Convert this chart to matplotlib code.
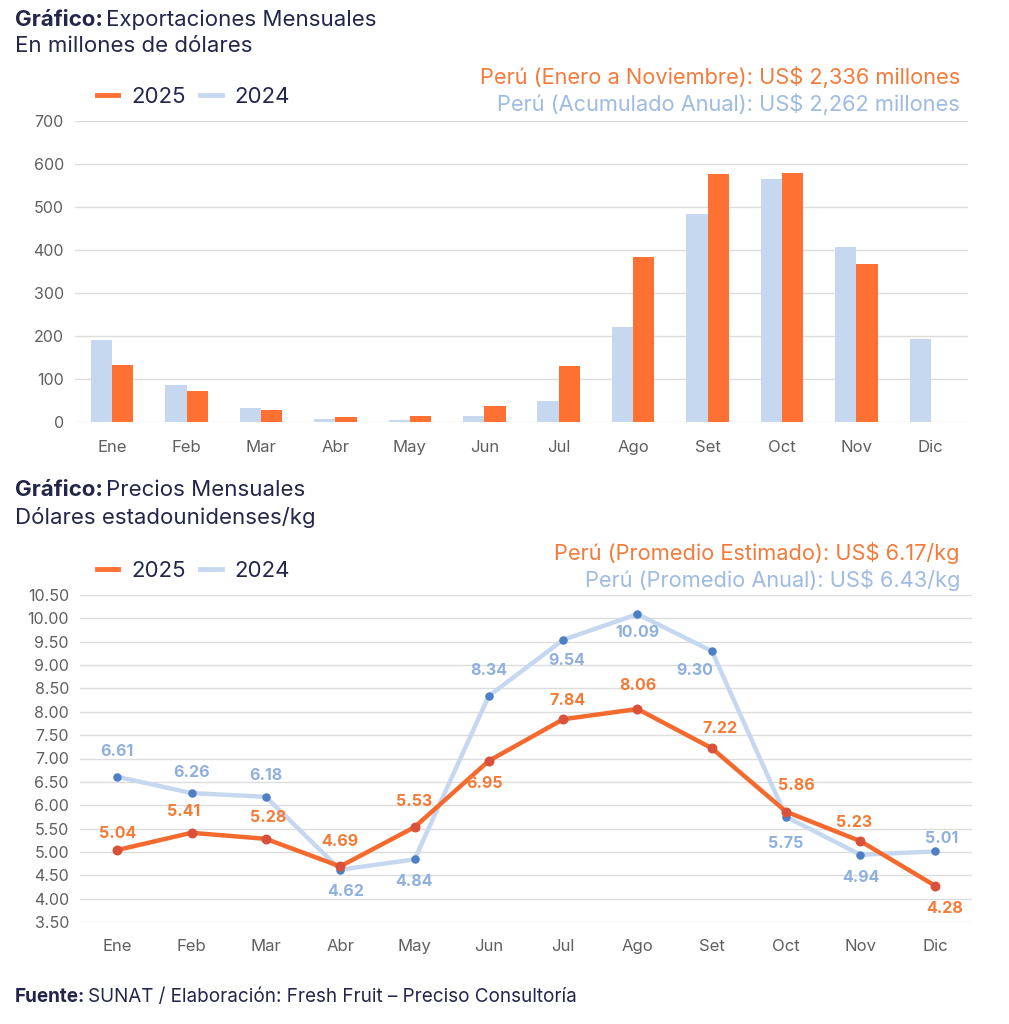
import numpy as np
import matplotlib
matplotlib.use('Agg')
import matplotlib.pyplot as plt
from matplotlib.lines import Line2D

plt.rcParams['font.family'] = ['Inter', 'DejaVu Sans']

# ---- data ----
meses = ['Ene', 'Feb', 'Mar', 'Abr', 'May', 'Jun', 'Jul', 'Ago', 'Set', 'Oct', 'Nov', 'Dic']
# exportaciones, millones US$
exp_2024 = [191, 85, 33, 8, 5, 14, 50, 221, 484, 564, 407, 193]
exp_2025 = [133, 73, 27, 12, 13, 37, 131, 384, 576, 579, 368]
# precios US$/kg
precio_2024 = [6.61, 6.26, 6.18, 4.62, 4.84, 8.34, 9.54, 10.09, 9.30, 5.75, 4.94, 5.01]
precio_2025 = [5.04, 5.41, 5.28, 4.69, 5.53, 6.95, 7.84, 8.06, 7.22, 5.86, 5.23, 4.28]

tot_2025 = 'Perú (Enero a Noviembre): US$ 2,336 millones'
tot_2024 = 'Perú (Acumulado Anual): US$ 2,262 millones'
prom_2025 = 'Perú (Promedio Estimado): US$ 6.17/kg'
prom_2024 = 'Perú (Promedio Anual): US$ 6.43/kg'

# label offsets (px) for the line chart value labels
off_2024 = [(0, 25), (0, 21), (0, 21), (6, -22), (0, -22), (0, 25), (4, -21), (0, -18), (-17, -19), (0, -27), (0, -23), (7, 13)]
off_2025 = [(0, 17), (-8, 21), (2, 21), (0, 25), (0, 26), (-4, -23), (4, 19), (0, 23), (8, 20), (10, 26), (-6, 19), (10, -23)]

NARANJA = '#FF7033'
CELESTE = '#C6D8F0'
NAVY = '#22264A'
GRIS = '#5F5F5F'
GRID = '#DCDCDC'

W, H = 1009, 1024
fig = plt.figure(figsize=(W / 100, H / 100), dpi=100)
fig.patch.set_facecolor('white')
r = fig.canvas.get_renderer()


def fx(px):
    return px / W


def fy(py):
    return 1 - py / H


def titulo(x, y, bold, resto, size=16):
    t = fig.text(fx(x), fy(y), bold, fontsize=size, fontweight='bold', color=NAVY, va='center')
    bb = t.get_window_extent(renderer=r)
    fig.text(bb.x1 / W + 0.003, fy(y), resto, fontsize=size, color=NAVY, va='center')


def style_ax(ax, pad):
    for s in ax.spines.values():
        s.set_visible(False)
    ax.tick_params(length=0, labelsize=11.5, labelcolor=GRIS)
    ax.yaxis.grid(True, color=GRID, lw=1)
    ax.set_axisbelow(True)
    ax.set_xlim(-0.5, 11.5)
    ax.set_xticks(np.arange(12))
    ax.set_xticklabels(meses, fontsize=12)
    ax.tick_params(axis='x', pad=pad)
    ax.tick_params(axis='y', pad=8)


def leyenda(ax, y):
    h = [Line2D([], [], color=NARANJA, lw=3.5), Line2D([], [], color=CELESTE, lw=3.5)]
    ax.legend(h, ['2025', '2024'], ncol=2, frameon=False, loc='center left',
              bbox_to_anchor=(fx(97), fy(y)), bbox_transform=fig.transFigure,
              fontsize=16, handlelength=0.95, columnspacing=0.65, handletextpad=0.6,
              labelcolor=NAVY, borderpad=0, borderaxespad=0)


# ---- grafico 1: exportaciones ----
titulo(15, 20, 'Gráfico:', 'Exportaciones Mensuales')
fig.text(fx(15), fy(46), 'En millones de dólares', fontsize=16, color=NAVY, va='center')

ax1 = fig.add_axes([fx(75), fy(422), (968 - 75) / W, (422 - 121) / H])
x = np.arange(12)
bw = 0.285
ax1.bar(x - bw / 2, exp_2024, bw, color=CELESTE)
ax1.bar(np.arange(len(exp_2025)) + bw / 2, exp_2025, bw, color=NARANJA)
style_ax(ax1, 13)
ax1.set_ylim(0, 700)
ax1.set_yticks(np.arange(0, 701, 100))
leyenda(ax1, 97)
fig.text(fx(960), fy(77), tot_2025, fontsize=15.7, color='#F47A3C', ha='right', va='center')
fig.text(fx(960), fy(104), tot_2024, fontsize=15.7, color='#9DBBE3', ha='right', va='center')

# ---- grafico 2: precios ----
titulo(15, 490, 'Gráfico:', 'Precios Mensuales')
fig.text(fx(15), fy(517), 'Dólares estadounidenses/kg', fontsize=16, color=NAVY, va='center')

ax2 = fig.add_axes([fx(80), fy(922), (972 - 80) / W, (922 - 595) / H])
ax2.plot(x, precio_2024, color=CELESTE, lw=3.2, zorder=2)
ax2.scatter(x, precio_2024, s=26, color='#4D7FC4', zorder=3)
ax2.plot(x, precio_2025, color='#F46A2E', lw=3.2, zorder=4)
ax2.scatter(x, precio_2025, s=38, color='#D9513A', zorder=5)
style_ax(ax2, 12)
ax2.set_ylim(3.5, 10.5)
ax2.set_yticks(np.arange(3.5, 10.51, 0.5))
ax2.set_yticklabels([f'{v:.2f}' for v in np.arange(3.5, 10.51, 0.5)])

for i, v in enumerate(precio_2024):
    dx, dy = off_2024[i]
    ax2.annotate(f'{v:.2f}', (x[i], v), xytext=(dx * 0.72, dy * 0.72), textcoords='offset points',
                 ha='center', va='center', fontsize=11.5, fontweight='bold', color='#8FB0DE', zorder=6)
for i, v in enumerate(precio_2025):
    dx, dy = off_2025[i]
    ax2.annotate(f'{v:.2f}', (x[i], v), xytext=(dx * 0.72, dy * 0.72), textcoords='offset points',
                 ha='center', va='center', fontsize=11.5, fontweight='bold', color='#F37B37', zorder=6)

leyenda(ax2, 571)
fig.text(fx(960), fy(553), prom_2025, fontsize=15.7, color='#F47A3C', ha='right', va='center')
fig.text(fx(960), fy(580), prom_2024, fontsize=15.7, color='#9DBBE3', ha='right', va='center')

# ---- fuente ----
titulo(15, 997, 'Fuente:', 'SUNAT / Elaboración: Fresh Fruit – Preciso Consultoría', size=13.6)

fig.savefig('out.png', dpi=100, facecolor='white')
